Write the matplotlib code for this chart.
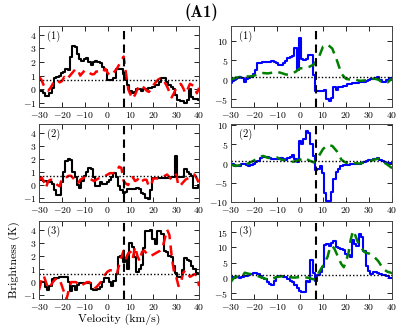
import matplotlib
matplotlib.use("Agg")
import matplotlib.pyplot as plt

plt.rcParams['font.family'] = 'serif'
plt.rcParams['font.serif'] = ['cmr10', 'DejaVu Serif']
plt.rcParams['mathtext.fontset'] = 'cm'
plt.rcParams['axes.formatter.use_mathtext'] = True

# velocity grids (km/s)
vel = list(range(-30, 41))
vel2 = list(range(-30, 41, 2))

# left column: observed (black steps) and model (red dashed)
black1 = [-0.1, -0.1, -0.3, -0.5, -0.5, -0.3, 0.1, 0.8, 0.9, 1.0, 1.2, 1.3, 1.5, 1.4, 2.4, 3.2,
          3.1, 2.6, 2.2, 2.1, 2.2, 2.3, 2.0, 1.8, 2.0, 2.1, 2.0, 1.9, 1.6, 1.4, 0.7, 0.7, 0.7,
          0.8, 1.5, 1.5, 1.5, 1.1, 0.7, 0.3, -0.1, -0.3, -0.2, 0.0, 0.0, -0.1, 0.0, 0.0, 0.1,
          0.1, 0.2, 0.3, 0.3, 0.5, 0.8, 0.8, 0.5, 0.3, 0.2, 0.0, -0.4, -0.8, -0.9, -0.9, -1.0,
          -0.8, 0.0, -0.6, -0.7, -0.7, -0.8]
red1 = [0.9, 0.7, 0.3, 0.0, -0.1, 0.1, 0.4, 0.6, 0.7, 0.5, 0.6, 0.9, 0.7, 0.9, 1.1, 1.3, 1.5,
        1.4, 1.0, 1.2, 1.4, 1.3, 1.2, 1.1, 1.1, 1.3, 1.3, 1.2, 1.3, 1.5, 1.2, 1.0, 1.1, 1.3,
        1.5, 1.8, 2.1, 2.4, 1.2, 0.0, -0.4, -0.7, -0.4, 0.0, 0.3, 0.2, 0.1, -0.1, -0.2, 0.0,
        0.3, 0.5, 0.7, 0.8, 0.8, 0.5, 0.2, -0.2, -0.6, -0.3, 0.1, 0.3, 0.4, 0.1, -0.3, 0.0,
        0.4, 0.3, 0.2, -0.3, 0.1]
black2 = [0.4, 0.4, 0.3, 0.3, 0.2, 0.2, 0.1, -0.4, -0.8, -0.8, 0.2, 1.0, 1.8, 2.0, 1.9, 1.0,
          0.6, 0.0, -0.2, 0.3, 0.7, 1.0, 1.3, 1.2, 0.6, -0.1, -0.1, 0.2, 0.1, 0.1, 0.2, 0.4,
          0.6, 0.9, 0.6, -0.1, -0.4, -0.6, -0.5, -0.3, -0.3, -0.3, -0.3, -0.2, -0.3, -0.6,
          -0.7, -1.0, -1.1, -0.4, 0.5, 0.5, 0.5, 0.5, 0.5, 0.5, 0.5, 0.5, 0.6, 0.6, 2.2, 0.6,
          0.6, 0.6, 1.2, 1.0, 0.8, 0.7, -0.2, -0.2, 0.0]
red2 = [0.4, 0.6, 0.3, -0.2, 0.3, 0.4, 0.4, 0.2, 0.0, -0.1, 0.5, 0.6, 0.6, 0.7, 0.7, 0.5, 0.3,
        0.1, 0.4, 0.5, 0.6, 0.6, 0.5, 0.4, 0.3, 0.4, 0.5, 0.5, 0.6, 0.7, 0.8, 0.9, 0.9, 0.9,
        1.0, 1.4, 1.3, 0.3, 0.1, 0.0, 0.4, 0.6, 0.3, 0.4, 0.6, 0.3, 0.4, 0.4, -0.1, 0.0, 0.5,
        0.5, 0.5, 0.5, 0.6, 0.7, 0.8, 0.6, 0.4, 0.6, 0.8, -0.1, 0.0, 0.2, 0.4, 0.5, 0.6, 0.7,
        0.8, 0.5, 0.1]
black3 = [0.0, 0.0, 0.0, -0.4, -0.6, -0.3, 0.2, 0.3, 0.3, 0.4, 0.4, 0.4, 0.4, 0.0, -0.7, -0.3,
          -0.6, -0.2, -0.1, -0.1, -0.1, -0.1, -0.1, -0.5, -0.6, -0.6, -0.5, -0.4, 0.0, 0.3,
          0.3, 0.0, -0.3, 0.1, 0.6, 1.9, 2.0, 1.5, 1.8, 1.0, 3.0, 2.7, 1.9, 0.8, 1.0, 1.3, 2.6,
          3.9, 3.9, 4.0, 3.3, 2.9, 3.9, 3.9, 3.7, 2.4, 2.3, 2.0, 1.9, 1.2, 0.7, 0.4, 0.4, 0.9,
          1.8, 1.7, 1.6, 1.2, 1.0, 0.7, 0.6]
red3 = [-0.6, 0.1, 0.5, 0.0, -0.5, -0.3, 0.0, 0.2, 0.3, 0.2, -0.3, -0.8, -1.3, -0.6, 0.0, 0.0,
        0.0, -0.1, -0.3, -0.2, -0.1, 0.0, 0.0, -0.3, -0.5, -0.4, -0.2, 0.0, 0.3, 0.6, 0.8,
        0.9, 0.9, 0.7, 0.6, 1.3, 1.9, 2.4, 1.8, 2.2, 2.3, 1.8, 2.7, 2.0, 1.6, 2.3, 2.4, 2.2,
        2.0, 2.0, 2.1, 2.2, 2.3, 2.4, 2.6, 3.3, 4.0, 3.6, 2.0, 0.8, 0.4, -0.3, -0.1, 0.7, 0.9,
        0.7, 0.4, 0.5, 0.6, 0.5, -0.3]

# right column: observed (blue steps) and model (green dashed)
blue1 = [-0.8, -0.3, 0.2, 0.5, 0.6, 0.4, -0.5, 0.2, 0.5, 0.8, 1.5, 2.5, 4.3, 4.4, 4.5, 4.5,
         4.6, 4.6, 4.7, 4.5, 4.2, 3.8, 3.7, 4.3, 4.8, 5.6, 5.9, 6.0, 8.1, 2.5, 10.8, 5.2, 5.0,
         5.3, 6.3, 6.3, 1.2, -2.8, -3.0, -3.0, -2.9, -2.6, -5.0, -5.4, -4.6, -2.0, -2.6, -2.0,
         -1.9, -1.7, -1.5, -1.2, -1.0, -0.9, -0.8, -0.8, -0.7, -0.6, -0.5, -0.3, 0.0, 0.1, 0.2,
         0.4, 0.6, -0.2, -0.5, -0.6, -0.2, 0.3, 0.5]
green1 = [0.0, 0.5, 0.7, 0.9, 0.8, 1.0, 1.6, 1.7, 1.6, 1.8, 2.0, 1.7, 1.3, 1.4, 2.0, 2.9, 3.0,
          3.3, 3.9, 5.5, 8.5, 9.0, 8.0, 5.0, 1.5, 0.2, 0.0, 0.0, -0.3, -0.2, -0.1, 0.3, 0.0,
          -0.8, -0.7, 0.3]
blue2 = [0.0, -0.2, -0.5, -0.5, -0.5, -0.2, 0.0, -0.3, -0.7, -0.4, 0.0, 0.4, 0.8, 1.5, 1.8,
         1.7, 1.6, 1.5, 1.3, 1.2, 1.2, 1.3, 1.4, 1.2, 1.0, 1.4, 1.8, 2.2, 1.3, 0.4, 6.0, 5.0,
         6.5, 8.6, 8.0, 5.0, 2.0, -1.7, -1.5, -0.7, -2.5, -7.7, -9.6, -9.6, -7.3, -4.0, -2.3,
         -1.3, -0.5, -0.4, -0.3, -0.3, -0.2, -0.1, 0.0, 0.0, 0.0, 0.2, 0.5, 0.7, 0.9, 1.0, 1.1,
         1.3, 1.5, 1.0, 0.6, 0.4, 0.2, 0.2, 0.2]
green2 = [-0.3, -0.6, -0.4, -0.5, 0.2, 0.8, 1.6, 2.0, 1.5, 1.4, 1.6, 1.0, 0.8, 0.4, 0.6, 1.0,
          1.5, 0.8, 0.3, 1.8, 3.8, 4.8, 4.6, 3.2, 1.0, 0.2, 0.5, 0.1, 0.0, 0.3, 0.5, 1.0, 1.3,
          0.5, -0.3, -1.2]
blue3 = [0.2, 0.2, 0.4, 0.2, 0.0, 0.3, 0.5, 0.7, 1.0, 1.3, 1.6, 1.5, 1.3, 0.5, 0.0, -0.5, -1.5,
         -2.0, -2.2, -1.0, 0.3, 0.5, 0.5, 0.4, 0.4, -0.3, -1.0, -1.5, -2.5, -3.4, -4.2, -4.5,
         -4.5, -1.0, -1.3, 6.0, 1.5, -1.0, 1.0, 2.0, 3.5, 10.8, 11.0, 10.5, 11.5, 12.0, 10.0,
         9.8, 9.5, 9.2, 8.0, 7.5, 7.0, 12.5, 11.0, 10.5, 14.3, 13.5, 8.8, 4.0, 2.3, 1.3, 2.0,
         1.8, 1.5, 1.3, 1.0, 1.0, 0.7, 0.0, 0.0]
green3 = [-1.3, -0.3, 0.5, 0.3, 0.0, 0.5, 1.7, 1.5, 1.3, 1.2, 1.0, 0.8, 0.5, 0.2, 0.0, -0.3,
          -0.5, -0.4, -0.3, 0.0, 0.3, 0.4, 0.5, 0.5, 0.4, 0.3, 0.2, 0.1, 0.1, 0.2, 0.3, 0.3,
          0.2, 0.1, 0.0, -0.3, -0.5, 0.0, 1.5, 2.8, 4.0, 5.5, 7.0, 10.0, 10.5, 9.5, 7.8, 6.0,
          4.5, 3.5, 5.5, 8.0, 12.5, 15.5, 14.0, 12.0, 10.7, 9.5, 8.5, 8.2, 8.0, 7.5, 7.0, 6.3,
          5.5, 4.3, 3.0, 2.5, 2.0, 1.8, 1.5]

v_sys = 7.0
left_level = 0.65
right_level = 0.8
panel_names = ['(1)', '(2)', '(3)']

fig = plt.figure(figsize=(4.03, 3.28), dpi=100)

left_pos = [[0.097, 0.674, 0.397, 0.247], [0.097, 0.384, 0.397, 0.238], [0.097, 0.088, 0.397, 0.238]]
right_pos = [[0.573, 0.674, 0.400, 0.247], [0.573, 0.384, 0.400, 0.238], [0.573, 0.088, 0.400, 0.238]]

left_data = [(black1, red1, vel), (black2, red2, vel), (black3, red3, vel)]
right_data = [(blue1, green1, vel2), (blue2, green2, vel2), (blue3, green3, vel)]
right_ylims = [(-7, 13.8), (-10, 10.3), (-7, 18.7)]
right_yticks = [[-5, 0, 5, 10], [-10, -5, 0, 5, 10], [-5, 0, 5, 10, 15]]


def style(ax):
    ax.set_xlim(-30, 40)
    ax.set_xticks([-30, -20, -10, 0, 10, 20, 30, 40])
    ax.tick_params(direction='in', top=True, right=True, length=3.5, width=0.6,
                   labelsize=7, pad=2)
    for s in ax.spines.values():
        s.set_linewidth(0.7)
        s.set_color('#444444')


for i in range(3):
    ax = fig.add_axes(left_pos[i])
    obs, mod, vm = left_data[i]
    ax.step(vel, obs, where='mid', color='black', lw=1.5)
    ax.plot(vm, mod, color='red', lw=1.8, dashes=(4, 2.5))
    ax.axhline(left_level, color='black', ls=(0, (1, 1.5)), lw=1.0)
    ax.axvline(v_sys, color='black', lw=1.5, dashes=(4, 2.5))
    ax.set_ylim(-1.3, 4.65)
    ax.set_yticks([-1, 0, 1, 2, 3, 4])
    style(ax)
    ax.text(0.05, 0.87, panel_names[i], transform=ax.transAxes, fontsize=7.5, va='center')
    if i == 2:
        ax.set_xlabel('Velocity (km/s)', fontsize=8.5, labelpad=1)
        ax.set_ylabel('Brightness (K)', fontsize=8.5, labelpad=2)

    ax = fig.add_axes(right_pos[i])
    obs, mod, vm = right_data[i]
    ax.step(vel, obs, where='mid', color='blue', lw=1.5)
    ax.plot(vm, mod, color='green', lw=1.8, dashes=(4, 2.5))
    ax.axhline(right_level, color='black', ls=(0, (1, 1.5)), lw=1.0)
    ax.axvline(v_sys, color='black', lw=1.5, dashes=(4, 2.5))
    ax.set_ylim(*right_ylims[i])
    ax.set_yticks(right_yticks[i])
    style(ax)
    ax.text(0.05, 0.87, panel_names[i], transform=ax.transAxes, fontsize=7.5, va='center')

fig.text(0.5, 0.962, '(A1)', ha='center', va='center', fontsize=12, family='cmb10')

fig.savefig('out.png', dpi=100)
